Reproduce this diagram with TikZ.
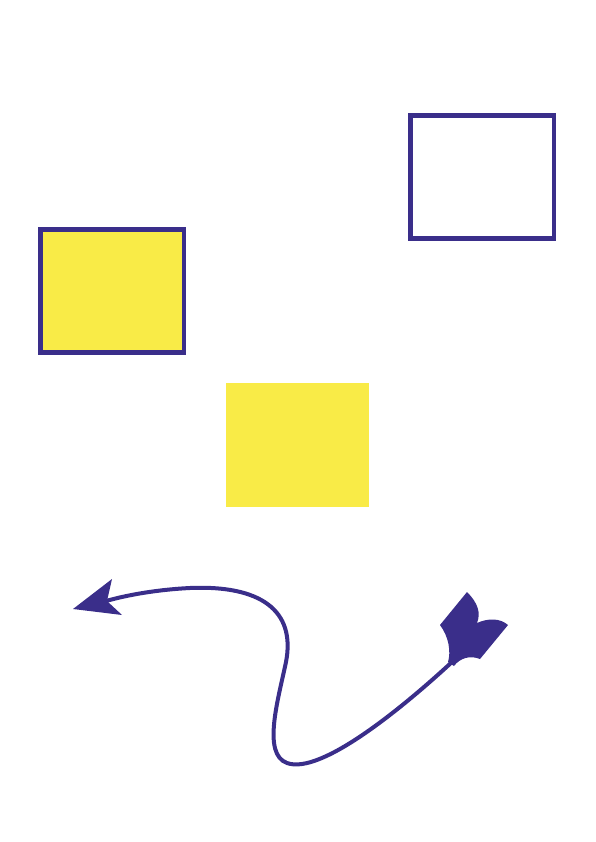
\documentclass[tikz,border=0pt]{standalone}
\begin{document}
\begin{tikzpicture}[x=1pt,y=-1pt]
\definecolor{ink}{RGB}{58,46,138}
\definecolor{yel}{RGB}{249,235,71}
\tikzset{
  box/.style={draw=ink,line width=4.8pt,inner sep=0pt,minimum width=143.5pt,minimum height=123pt},
  plain/.style={fill=yel,inner sep=0pt,minimum width=143.5pt,minimum height=124pt},
  curve/.style={draw=ink,line width=4pt},
}
\useasboundingbox (0,0) rectangle (596,842);
\node[box] (r1) at (482.2,177) {};
\node[box,fill=yel] (r2) at (112.2,291) {};
\node[plain] (r3) at (297.5,445) {};
% curved arrow
\coordinate (s) at (452,662);
\coordinate (e) at (106,601);
\draw[curve] (s) .. controls (400,710) and (320,775) .. (287,763)
  .. controls (262,754) and (278,700) .. (286,662)
  .. controls (296,610) and (260,585) .. (190,588)
  .. controls (150,590) and (120,597) .. (e);
% arrowhead
\fill[ink] (73,609) -- (112,579) -- (107,601) -- (122,615) -- cycle;
% fletching tail
\fill[ink] (440,625) -- (467,592)
  .. controls (478,603) and (481,613) .. (477,623)
  .. controls (488,618) and (500,618) .. (508,625)
  -- (480,659)
  .. controls (470,655) and (460,658) .. (454,666)
  -- (448,662)
  .. controls (451,652) and (449,637) .. (440,625) -- cycle;
\end{tikzpicture}
\end{document}
